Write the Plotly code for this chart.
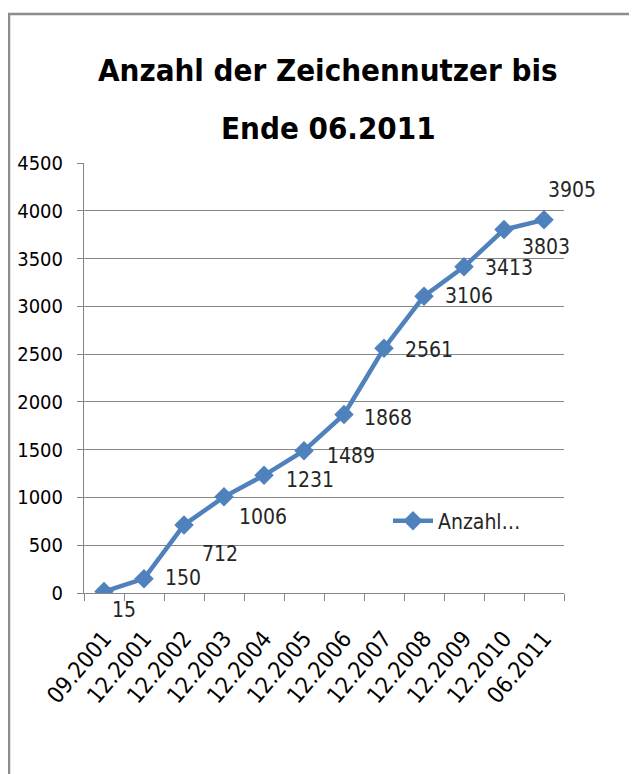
import plotly.graph_objects as go

categories = ["09.2001", "12.2001", "12.2002", "12.2003", "12.2004", "12.2005",
              "12.2006", "12.2007", "12.2008", "12.2009", "12.2010", "06.2011"]
values = [15, 150, 712, 1006, 1231, 1489, 1868, 2561, 3106, 3413, 3803, 3905]
series_name = "Anzahl…"
title_lines = ["Anzahl der Zeichennutzer bis", "Ende 06.2011"]
y_ticks = [0, 500, 1000, 1500, 2000, 2500, 3000, 3500, 4000, 4500]

# label offsets (pixels) relative to each point
label_dx = [6, 19, 16, 13, 20, 21, 18, 19, 19, 19, 16, 2]
label_dy = [-18, 1, -29, -20, -5, -5, -3, -2, 0, -1, -17, 30]

FONT = "DejaVu Sans Condensed, Liberation Sans Narrow, sans-serif"
BLUE = "#4F81BD"
GRAY = "#868686"

fig = go.Figure()
fig.add_trace(go.Scatter(
    x=categories, y=values, mode="lines+markers", name=series_name,
    line=dict(color=BLUE, width=4.5),
    marker=dict(symbol="diamond", size=15, color=BLUE),
    showlegend=True,
))

for i, (v, dx, dy) in enumerate(zip(values, label_dx, label_dy)):
    fig.add_annotation(x=i, y=v, text=str(v), showarrow=False,
                       xanchor="left", yanchor="middle", xshift=dx, yshift=dy,
                       font=dict(family=FONT, size=21, color="#262626"))

OFF = 8  # page body margin
W, H = 637 - OFF, 774 - OFF
L, T = 84 - OFF, 163 - OFF
R = W - (564 - OFF)
B = H - (593 - OFF)
pw, ph = W - L - R, H - T - B

def px(xp):
    return (xp - OFF - L) / pw

def py(yp):
    return (H - B - (yp - OFF)) / ph

fig.add_shape(type="path", xref="paper", yref="paper",
              path=f"M {px(9)} {py(800)} L {px(9)} {py(14)} L {px(660)} {py(14)}",
              line=dict(color="#8c8c8c", width=2.5))

for txt, ypos in zip(title_lines, [70, 128]):
    fig.add_annotation(xref="paper", yref="paper", x=px(328), y=py(ypos),
                       text=f"<b>{txt}</b>", showarrow=False,
                       xanchor="center", yanchor="middle",
                       font=dict(family=FONT, size=31, color="black"))

fig.update_layout(
    width=W, height=H,
    margin=dict(l=L, r=R, t=T, b=B, autoexpand=False),
    paper_bgcolor="white", plot_bgcolor="white",
    legend=dict(x=px(388), y=py(521), xanchor="left", yanchor="middle",
                font=dict(family=FONT, size=21, color="#262626"),
                bgcolor="rgba(0,0,0,0)", itemwidth=40),
    xaxis=dict(type="category", showgrid=False, showline=True, linecolor=GRAY,
               linewidth=1, ticks="outside", tickson="boundaries", ticklen=7,
               tickcolor=GRAY, tickangle=-50, ticklabelstandoff=22,
               tickfont=dict(family=FONT, size=23, color="black"),
               range=[-0.5, 11.5]),
    yaxis=dict(range=[0, 4500], tickvals=y_ticks, showgrid=True, gridcolor=GRAY,
               gridwidth=1, showline=True, linecolor=GRAY, linewidth=1,
               ticks="outside", ticklen=6, tickcolor=GRAY, zeroline=False,
               ticklabelstandoff=10,
               tickfont=dict(family=FONT, size=20, color="black")),
)

fig.write_html("out.html")
